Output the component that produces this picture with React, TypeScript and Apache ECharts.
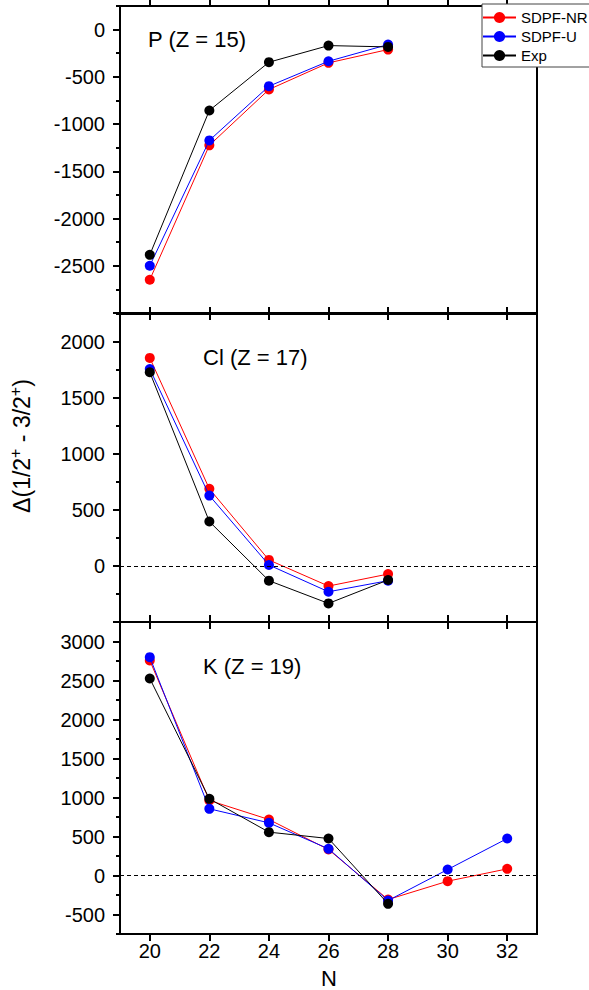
import React, { useEffect, useRef } from "react";
import * as echarts from "echarts";

// ---- data ----
const nValues = [20, 22, 24, 26, 28, 30, 32];
const seriesNames = ["SDPF-NR", "SDPF-U", "Exp"];
const seriesColors = ["#ff0000", "#0000ff", "#000000"];

const pNR = [-2648, -1225, -634, -352, -211];
const pU = [-2500, -1173, -599, -335, -158];
const pExp = [-2384, -856, -345, -169, -183];

const clNR = [1858, 689, 54, -179, -72];
const clU = [1759, 629, 9, -230, -131];
const clExp = [1730, 397, -131, -334, -125];

const kNR = [2757, 962, 718, 333, -308, -73, 85];
const kU = [2799, 855, 675, 342, -321, 77, 474];
const kExp = [2526, 983, 556, 474, -363];

const panelLabels = ["P (Z = 15)", "Cl (Z = 17)", "K (Z = 19)"];
const yMins = [-3000, -500, -750];
const yMaxs = [250, 2250, 3250];
const yLabelValues = [
  [-2500, -2000, -1500, -1000, -500, 0],
  [0, 500, 1000, 1500, 2000],
  [-500, 0, 500, 1000, 1500, 2000, 2500, 3000],
];
const yMajorTicks = [
  [-3000, -2500, -2000, -1500, -1000, -500, 0],
  [-500, 0, 500, 1000, 1500, 2000],
  [-500, 0, 500, 1000, 1500, 2000, 2500, 3000],
];
const xTickValues = [20, 22, 24, 26, 28, 30, 32];

const panels = [
  [pNR, pU, pExp],
  [clNR, clU, clExp],
  [kNR, kU, kExp],
];
const zeroLine = [false, true, true];

const FONT = "'Liberation Sans', Arial, sans-serif";

export default function App() {
  const ref = useRef<HTMLDivElement>(null);

  useEffect(() => {
    if (!ref.current) return;
    const chart = echarts.init(ref.current, null, { renderer: "svg" });

    const gridPos = [
      { top: 6, height: 307 },
      { top: 314, height: 308 },
      { top: 622, height: 312 },
    ];

    const grid = gridPos.map((g) => ({
      left: 120,
      right: 52,
      top: g.top,
      height: g.height,
      show: true,
      borderColor: "#000",
      borderWidth: 2,
      backgroundColor: "transparent",
    }));

    const xAxis: any[] = [];
    const yAxis: any[] = [];
    for (let i = 0; i < 3; i++) {
      ["bottom", "top"].forEach((pos) => {
        xAxis.push({
          type: "value",
          gridIndex: i,
          position: pos,
          min: 19,
          max: 33,
          axisLine: { show: true, onZero: false, lineStyle: { color: "#000", width: 2 } },
          axisTick: {
            show: true,
            inside: false,
            length: 7,
            customValues: xTickValues,
            lineStyle: { color: "#000", width: 2 },
          },
          axisLabel: {
            show: i === 2 && pos === "bottom",
            customValues: xTickValues,
            formatter: (v: number) => String(v),
            fontSize: 20,
            color: "#000",
            fontFamily: FONT,
            margin: 7,
          },
          splitLine: { show: false },
        });
      });
      // minor ticks + labels
      yAxis.push({
        type: "value",
        gridIndex: i,
        position: "left",
        min: yMins[i],
        max: yMaxs[i],
        interval: 250,
        axisLine: { show: true, onZero: false, lineStyle: { color: "#000", width: 2 } },
        axisTick: { show: true, inside: false, length: 4, lineStyle: { color: "#000", width: 2 } },
        axisLabel: {
          show: true,
          customValues: yLabelValues[i],
          formatter: (v: number) => String(v),
          fontSize: 20,
          color: "#000",
          fontFamily: FONT,
          margin: 15,
        },
        splitLine: { show: false },
      });
      // major ticks
      yAxis.push({
        type: "value",
        gridIndex: i,
        position: "left",
        min: yMins[i],
        max: yMaxs[i],
        interval: 250,
        axisLine: { show: false, onZero: false },
        axisTick: {
          show: true,
          inside: false,
          length: 7,
          customValues: yMajorTicks[i],
          lineStyle: { color: "#000", width: 2 },
        },
        axisLabel: { show: false },
        splitLine: { show: false },
      });
    }

    const series: any[] = [];
    panels.forEach((vals, i) => {
      vals.forEach((arr, s) => {
        const item: any = {
          type: "line",
          name: seriesNames[s],
          xAxisIndex: i * 2,
          yAxisIndex: i * 2,
          data: arr.map((v, k) => [nValues[k], v]),
          symbol: "circle",
          symbolSize: 10,
          color: seriesColors[s],
          lineStyle: { color: seriesColors[s], width: 1 },
          itemStyle: { color: seriesColors[s] },
          z: 3 + s,
        };
        if (s === 0 && zeroLine[i]) {
          item.markLine = {
            silent: true,
            symbol: "none",
            label: { show: false },
            lineStyle: { color: "#000", width: 1, type: [4, 3] },
            data: [{ yAxis: 0 }],
          };
        }
        series.push(item);
      });
    });

    const labelPos = [
      { x: 148, y: 40 },
      { x: 203, y: 358 },
      { x: 203, y: 667 },
    ];

    const graphic: any[] = labelPos.map((p, i) => ({
      type: "text",
      left: p.x,
      top: p.y - 12,
      style: {
        text: panelLabels[i],
        fontSize: 22,
        fontFamily: FONT,
        fill: "#000",
      },
    }));
    graphic.push({
      type: "text",
      x: 329,
      y: 978,
      style: {
        text: "N",
        fontSize: 22,
        fontFamily: FONT,
        fill: "#000",
        align: "center",
        verticalAlign: "middle",
      },
    });
    graphic.push({
      type: "text",
      x: 22,
      y: 446,
      rotation: Math.PI / 2,
      style: {
        text: "{m|Δ(1/2}{s|+}{m| - 3/2}{s|+}{m|)}",
        align: "center",
        verticalAlign: "middle",
        fill: "#000",
        fontFamily: FONT,
        rich: {
          m: { fontSize: 23, fontFamily: FONT, fill: "#000" },
          s: { fontSize: 16, fontFamily: FONT, fill: "#000", padding: [0, 0, 14, 0] },
        },
      },
    });

    chart.setOption({
      animation: false,
      backgroundColor: "#fff",
      grid,
      xAxis,
      yAxis,
      series,
      graphic,
      legend: {
        data: seriesNames,
        orient: "vertical",
        left: 482,
        top: 4,
        padding: [6, 12, 4, 0],
        itemWidth: 33,
        itemHeight: 14,
        itemGap: 4,
        borderColor: "#444",
        borderWidth: 1,
        backgroundColor: "#fff",
        borderRadius: 0,
        textStyle: { fontSize: 15, color: "#000", fontFamily: FONT, lineHeight: 15 },
      },
    });

    return () => chart.dispose();
  }, []);

  return (
    <div
      ref={ref}
      style={{ position: "absolute", left: 0, top: 0, width: 589, height: 990, background: "#fff" }}
    />
  );
}
